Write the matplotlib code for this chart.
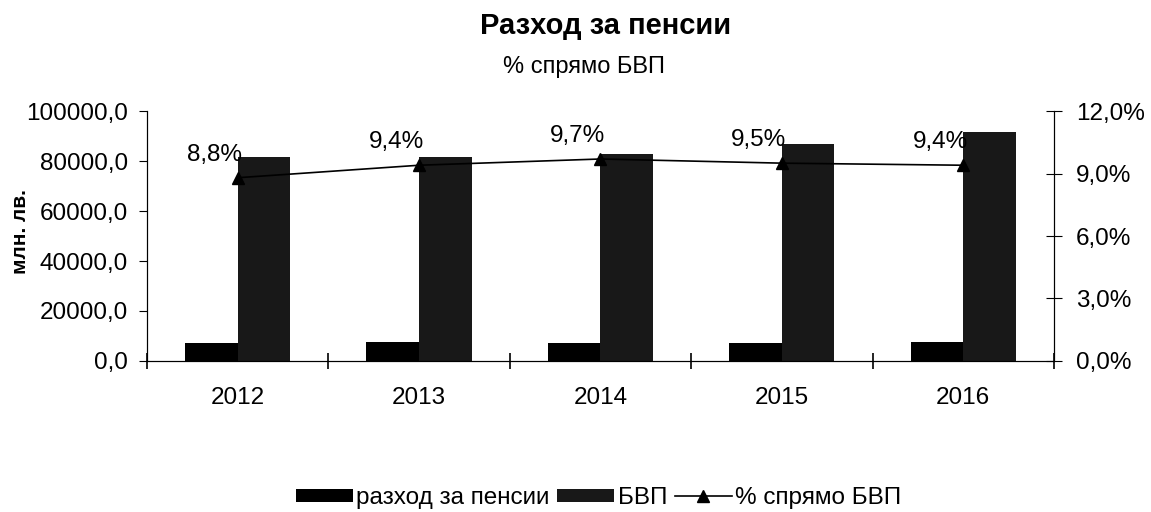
import numpy as np
import matplotlib
matplotlib.use("Agg")
import matplotlib.pyplot as plt
from matplotlib.ticker import FuncFormatter, FixedLocator

plt.rcParams['font.family'] = ['Liberation Sans', 'DejaVu Sans']

years = ['2012', '2013', '2014', '2015', '2016']
pensions = [7100, 7500, 7200, 7000, 7700]        # разход за пенсии, млн. лв.
gdp = [81500, 81800, 82800, 87000, 91500]        # БВП, млн. лв.
share = [8.8, 9.4, 9.7, 9.5, 9.4]                # % спрямо БВП
share_labels = ['8,8%', '9,4%', '9,7%', '9,5%', '9,4%']

fig = plt.figure(figsize=(11.51, 5.12), dpi=100)
ax = fig.add_axes([0.1277, 0.295, 0.788, 0.488])
ax2 = ax.twinx()

x = np.arange(len(years))
w = 0.29
ax.bar(x - w / 2, pensions, w, color='black', label='разход за пенсии', zorder=2)
ax.bar(x + w / 2, gdp, w, color='#181818', label='БВП', zorder=2)

ax.set_xlim(-0.5, len(years) - 0.5)
ax.set_ylim(0, 100000)
ax.set_yticks(np.arange(0, 100001, 20000))
ax.yaxis.set_major_formatter(FuncFormatter(lambda v, p: f"{v:.1f}".replace('.', ',')))
ax.set_xticks(x)
ax.set_xticklabels(years)
ax.xaxis.set_minor_locator(FixedLocator(np.arange(-0.5, len(years), 1.0)))
ax.tick_params(axis='x', which='major', length=0, pad=19, labelsize=17.5)
ax.tick_params(axis='x', which='minor', length=12, direction='inout', width=1.2)
ax.tick_params(axis='y', length=6, direction='out', labelsize=17.5, pad=7.5)
ax.set_ylabel('млн. лв.', fontsize=15, fontweight='bold', va='center')
ax.yaxis.set_label_coords(-0.139, 0.516)
ax.spines['top'].set_visible(False)

ax2.plot(x, share, color='black', lw=1.2, marker='^', markersize=9, zorder=3,
         label='% спрямо БВП')
ax2.set_ylim(0, 12)
ax2.set_yticks(np.arange(0, 12.1, 3))
ax2.yaxis.set_major_formatter(FuncFormatter(lambda v, p: f"{v:.1f}%".replace('.', ',')))
ax2.tick_params(axis='y', length=12, direction='inout', labelsize=17.5, pad=10)
ax2.spines['top'].set_visible(False)
for xi, yi, lab in zip(x, share, share_labels):
    ax2.annotate(lab, (xi, yi), xytext=(-23, 12), textcoords='offset pixels',
                 ha='center', va='bottom', fontsize=17.5)

fig.text(0.526, 0.949, 'Разход за пенсии', ha='center', va='center',
         fontsize=21, fontweight='bold')
fig.text(0.507, 0.869, '% спрямо БВП', ha='center', va='center', fontsize=17)

h1, l1 = ax.get_legend_handles_labels()
h2, l2 = ax2.get_legend_handles_labels()
fig.legend(h1 + h2, l1 + l2, loc='center', bbox_to_anchor=(0.52, 0.027), ncol=3,
           frameon=False, fontsize=17.5, handlelength=2.35, handleheight=0.5,
           columnspacing=0.3, handletextpad=0.15)

fig.savefig('out.png', dpi=100)
